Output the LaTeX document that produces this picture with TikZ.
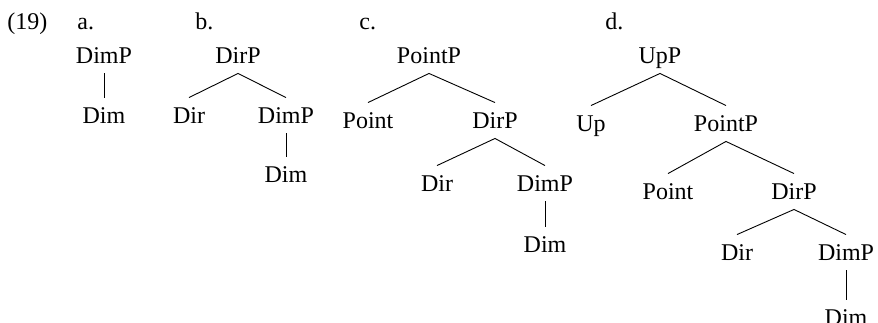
\documentclass[tikz,border=0pt]{standalone}
\usepackage{amsmath}
\usepackage{fontspec}
\setmainfont{Liberation Serif}

\tikzset{
  cat/.style={anchor=base, text height=15pt, text depth=0pt, inner xsep=0pt, inner ysep=10pt},
  lab/.style={anchor=base west, inner sep=0pt}
}

\begin{document}
\begin{tikzpicture}[x=1pt,y=-1pt,line width=0.9pt,font=\fontsize{24}{28}\selectfont]

        \useasboundingbox (0,0) rectangle (878,322);

        % Example number and labels
        \node[lab] (num) at (7,29) {(19)};
        \node[lab] (la) at (77,29) {a.};
        \node[lab] (lb) at (195,29) {b.};
        \node[lab] (lc) at (359,29) {c.};
        \node[lab] (ld) at (605,29) {d.};

        % Tree a
        \node[cat] (aDimP) at (104,63) {DimP};
        \node[cat] (aDim) at (104,123) {Dim};
        \draw (aDimP.south) -- (aDim.north);

        % Tree b
        \node[cat] (bDirP) at (238,63) {DirP};
        \node[cat] (bDir) at (189,123) {Dir};
        \node[cat] (bDimP) at (286,123) {DimP};
        \node[cat] (bDim) at (286,182) {Dim};
        \draw (bDir.north) -- (bDirP.south) -- (bDimP.north); % Branches
        \draw (bDimP.south) -- (bDim.north);

        % Tree c
        \node[cat] (cPointP) at (429,63) {PointP};
        \node[cat] (cPoint) at (368,128) {Point};
        \node[cat] (cDirP) at (495,128) {DirP};
        \node[cat] (cDir) at (437,191) {Dir};
        \node[cat] (cDimP) at (545,191) {DimP};
        \node[cat] (cDim) at (545,252) {Dim};
        \draw (cPoint.north) -- (cPointP.south) -- (cDirP.north);
        \draw (cDir.north) -- (cDirP.south) -- (cDimP.north);
        \draw (cDimP.south) -- (cDim.north);

        % Tree d
        \node[cat] (dUpP) at (660,63) {UpP};
        \node[cat] (dUp) at (591,131) {Up};
        \node[cat] (dPointP) at (726,131) {PointP};
        \node[cat] (dPoint) at (668,199) {Point};
        \node[cat] (dDirP) at (794,199) {DirP};
        \node[cat] (dDir) at (737,260) {Dir};
        \node[cat] (dDimP) at (846,260) {DimP};
        \node[cat] (dDim) at (846,325) {Dim};
        \draw (dUp.north) -- (dUpP.south) -- (dPointP.north);
        \draw (dPoint.north) -- (dPointP.south) -- (dDirP.north);
        \draw (dDir.north) -- (dDirP.south) -- (dDimP.north);
        \draw (dDimP.south) -- (dDim.north);

    \end{tikzpicture}
\end{document}
